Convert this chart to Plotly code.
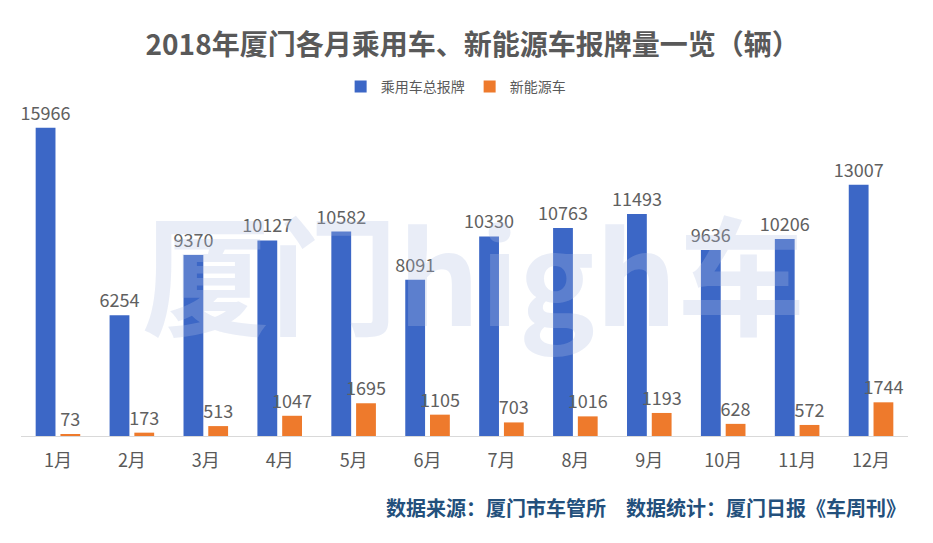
import plotly.graph_objects as go

months = ["1月", "2月", "3月", "4月", "5月", "6月", "7月", "8月", "9月", "10月", "11月", "12月"]
passenger = [15966, 6254, 9370, 10127, 10582, 8091, 10330, 10763, 11493, 9636, 10206, 13007]
new_energy = [73, 173, 513, 1047, 1695, 1105, 703, 1016, 1193, 628, 572, 1744]

FONT = "Noto Sans CJK SC, Microsoft YaHei, sans-serif"
GRAY = "#595959"

fig = go.Figure()
fig.add_trace(go.Bar(
    x=months, y=passenger, name="乘用车总报牌",
    marker=dict(color="#3c67c6", line=dict(width=0)),
    text=[str(v) for v in passenger], textposition="outside", constraintext="none",
    textfont=dict(size=18, color="#606060"), cliponaxis=False,
))
fig.add_trace(go.Bar(
    x=months, y=new_energy, name="新能源车",
    marker=dict(color="#ee7a2c", line=dict(width=0)),
    text=[str(v) for v in new_energy], textposition="outside", constraintext="none",
    textfont=dict(size=18, color="#606060"), cliponaxis=False,
))

# watermark
fig.add_annotation(
    text="<b>厦门high车</b>", xref="paper", yref="paper", x=0.51, y=0.49,
    showarrow=False, font=dict(size=128, color="rgba(175,192,226,0.28)", family=FONT),
)
# source line
fig.add_annotation(
    text="<b>数据来源：厦门市车管所　数据统计：厦门日报《车周刊》</b>",
    xref="paper", yref="paper", x=1.0, xanchor="right", y=-0.213, yanchor="middle",
    showarrow=False, font=dict(size=20, color="#23507c", family=FONT),
)

fig.update_layout(
    width=933, height=543,
    margin=dict(l=13, r=33, t=90, b=115),
    paper_bgcolor="white", plot_bgcolor="white",
    font=dict(family=FONT, color=GRAY),
    title=dict(
        text="<b>2018年厦门各月乘用车、新能源车报牌量一览（辆）</b>",
        x=0.498, xanchor="center", y=0.932, yanchor="middle",
        font=dict(size=28, color=GRAY),
    ),
    legend=dict(
        orientation="h", x=0.49, xanchor="center", y=1.033, yanchor="middle",
        font=dict(size=14, color=GRAY), itemwidth=30,
    ),
    barmode="group", bargap=0.33, bargroupgap=0.2,
    showlegend=True,
    xaxis=dict(
        showline=True, linecolor="#d9d9d9", linewidth=1, ticks="",
        tickfont=dict(size=18, color=GRAY), showgrid=False, ticklabelstandoff=8,
    ),
    yaxis=dict(range=[0, 17500], visible=False, showgrid=False),
)

fig.write_html("out.html")
